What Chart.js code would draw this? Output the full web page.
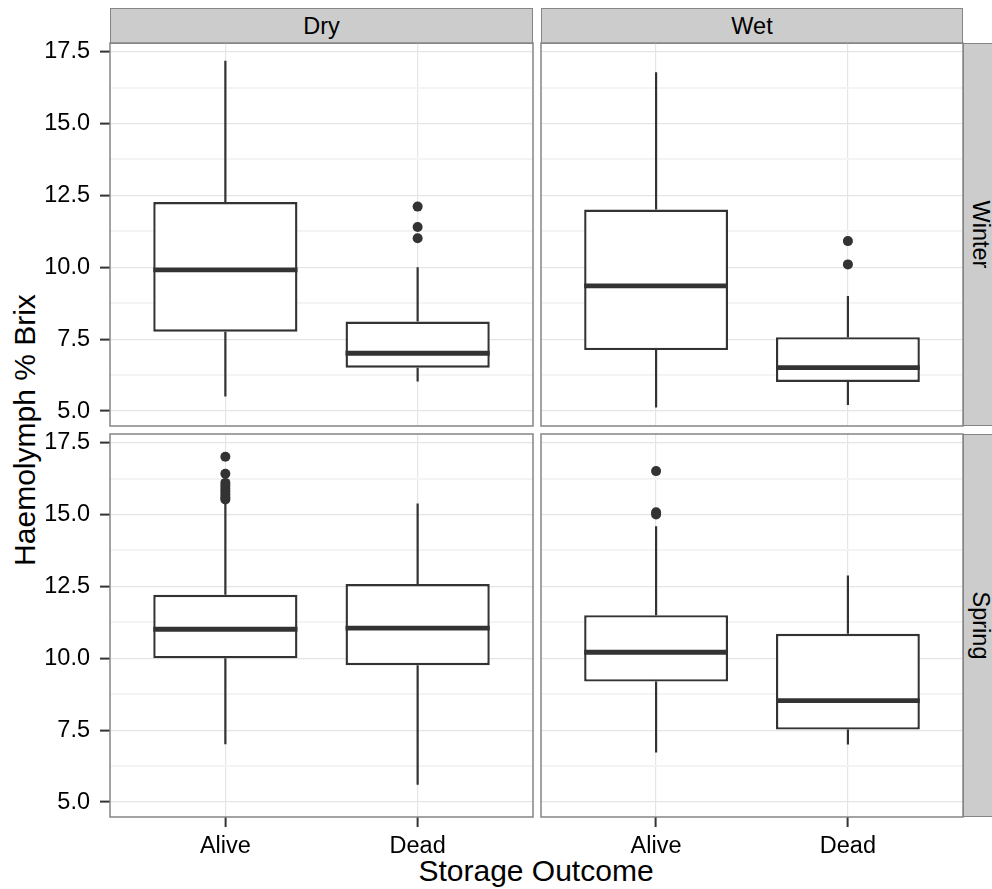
<!DOCTYPE html>
<html>
<head>
<meta charset="utf-8">
<title>Haemolymph % Brix by storage outcome</title>
<script src="https://cdn.jsdelivr.net/npm/chart.js@4.4.1/dist/chart.umd.min.js"></script>
<style>
  html, body { margin: 0; padding: 0; background: #fff; overflow: hidden; }
  #figure { position: relative; width: 992px; height: 889px; overflow: hidden;
            font-family: "Liberation Sans", Arial, Helvetica, sans-serif; color: #000; }
  .panel { position: absolute; }
  .strip { position: absolute; box-sizing: border-box; background: #cccccc; border: 1px solid #858585;
           font-size: 23.5px; display: flex; align-items: center; justify-content: center; }
  .strip span { white-space: nowrap; }
  .strip.side span { transform: rotate(90deg); }
  .title { position: absolute; font-size: 30px; line-height: 30px; height: 30px; text-align: center; white-space: nowrap; }
</style>
</head>
<body>
<div id="figure">
  <div class="strip" style="left:110px;top:8px;width:423px;height:36px;"><span>Dry</span></div>
  <div class="strip" style="left:541px;top:8px;width:422px;height:36px;"><span>Wet</span></div>
  <div class="strip side" style="left:963px;top:43px;width:36px;height:383px;"><span>Winter</span></div>
  <div class="strip side" style="left:963px;top:434px;width:36px;height:383px;"><span>Spring</span></div>
  <div class="title" style="left:-175px;top:415px;width:400px;transform:rotate(-90deg);">Haemolymph % Brix</div>
  <div class="title" style="left:236px;top:856px;width:600px;">Storage Outcome</div>
</div>
<script>
const outcomes = ['Alive', 'Dead'];
const storage = ['Dry', 'Wet'];
const seasons = ['Winter', 'Spring'];

// one row per outcome: lower whisker, Q1, median, Q3, upper whisker
const dryWinterBoxes = [[5.51, 7.76, 9.91, 12.27, 17.18], [6.03, 6.51, 7.01, 8.11, 10.0]];
const dryWinterOutliers = [[], [11.01, 11.4, 12.11]];
const wetWinterBoxes = [[5.12, 7.12, 9.35, 12.01, 16.78], [5.21, 6.01, 6.51, 7.57, 9.0]];
const wetWinterOutliers = [[], [10.1, 10.91]];
const drySpringBoxes = [[7.01, 10.0, 11.01, 12.21, 15.38], [5.6, 9.76, 11.05, 12.58, 15.38]];
const drySpringOutliers = [[15.52, 15.6, 15.7, 15.8, 15.9, 16.0, 16.1, 16.42, 17.01], []];
const wetSpringBoxes = [[6.72, 9.19, 10.21, 11.5, 14.59], [7.0, 7.52, 8.53, 10.85, 12.88]];
const wetSpringOutliers = [[15.0, 15.08, 16.51], []];

const yMajor = [5, 7.5, 10, 12.5, 15, 17.5];
const yMinor = [6.25, 8.75, 11.25, 13.75, 16.25];
const yLimits = [4.48, 17.8];
const xLimits = [0.4, 2.6];

// layout of the facet grid (page pixels)
const colLeft = [110, 541];
const colWidth = [423, 422];
const rowTop = [43, 434];
const rowHeight = 383;
const yAxisWidth = 110;
const xAxisHeight = 45;
const pad = 2;
const halfBox = 0.375;
const ink = '#333333';

Chart.defaults.font.family = '"Liberation Sans", Arial, Helvetica, sans-serif';

const panelBorder = {
    id: 'panelBorder',
    afterDraw(chart) {
        const { ctx, chartArea: a } = chart;
        ctx.save();
        ctx.strokeStyle = '#858585';
        ctx.lineWidth = 1.5;
        ctx.strokeRect(a.left, a.top, a.right - a.left, a.bottom - a.top);
        ctx.restore();
    }
};

const panels = [
    { boxes: dryWinterBoxes, outliers: dryWinterOutliers, row: 0, col: 0 },
    { boxes: wetWinterBoxes, outliers: wetWinterOutliers, row: 0, col: 1 },
    { boxes: drySpringBoxes, outliers: drySpringOutliers, row: 1, col: 0 },
    { boxes: wetSpringBoxes, outliers: wetSpringOutliers, row: 1, col: 1 },
];

const figure = document.getElementById('figure');

function makePanel(p) {
    const showY = p.col === 0;
    const showX = p.row === 1;
    const axisW = showY ? yAxisWidth : 0;
    const axisH = showX ? xAxisHeight : 0;

    const holder = document.createElement('div');
    holder.className = 'panel';
    holder.style.left = (colLeft[p.col] - axisW - pad) + 'px';
    holder.style.top = (rowTop[p.row] - pad) + 'px';
    const canvas = document.createElement('canvas');
    canvas.width = axisW + colWidth[p.col] + 2 * pad;
    canvas.height = rowHeight + axisH + 2 * pad;
    holder.appendChild(canvas);
    figure.appendChild(holder);

    let whiskers = [];
    let medians = [];
    let points = [];
    p.boxes.forEach((b, i) => {
        const x = i + 1;
        whiskers.push({ x, y: b[0] }, { x, y: b[1] }, { x, y: null }, { x, y: b[3] }, { x, y: b[4] }, { x, y: null });
        medians.push({ x: x - halfBox, y: b[2] }, { x: x + halfBox, y: b[2] }, { x, y: null });
        p.outliers[i].forEach(v => points.push({ x, y: v }));
    });
    const isMajor = v => yMajor.includes(v);

    new Chart(canvas, {
        type: 'bar',
        data: {
            datasets: [
                {
                    type: 'line', data: points, showLine: false,
                    pointRadius: 5, pointBackgroundColor: ink, pointBorderWidth: 0
                },
                {
                    type: 'line', data: medians, borderColor: ink, borderWidth: 4.8,
                    borderCapStyle: 'butt', pointRadius: 0
                },
                {
                    type: 'bar', data: p.boxes.map((b, i) => ({ x: i + 1, y: [b[1], b[3]] })),
                    backgroundColor: '#ffffff', borderColor: ink, borderWidth: 2.4, borderSkipped: false,
                    barPercentage: 0.75, categoryPercentage: 1
                },
                {
                    type: 'line', data: whiskers, borderColor: ink, borderWidth: 2.2, pointRadius: 0
                }
            ]
        },
        options: {
            responsive: false,
            animation: false,
            events: [],
            layout: { padding: pad, autoPadding: false },
            plugins: { legend: { display: false }, tooltip: { enabled: false } },
            scales: {
                x: {
                    type: 'linear',
                    min: xLimits[0],
                    max: xLimits[1],
                    offset: false,
                    afterBuildTicks: s => { s.ticks = outcomes.map((o, i) => ({ value: i + 1 })); },
                    afterFit: s => { s.height = axisH; s.paddingLeft = 0; s.paddingRight = 0; },
                    border: { display: false },
                    grid: {
                        offset: false, color: '#e5e5e5', lineWidth: 1.2,
                        drawTicks: showX, tickLength: 10, tickColor: ink, tickWidth: 2
                    },
                    ticks: {
                        display: showX, autoSkip: false, maxRotation: 0, padding: 5,
                        color: '#000', font: { size: 23.5 },
                        callback: v => outcomes[v - 1]
                    }
                },
                y: {
                    type: 'linear',
                    min: yLimits[0],
                    max: yLimits[1],
                    afterBuildTicks: s => {
                        s.ticks = yMajor.concat(yMinor).sort((a, b) => a - b).map(v => ({ value: v }));
                    },
                    afterFit: s => { s.width = axisW; s.paddingTop = 0; s.paddingBottom = 0; },
                    border: { display: false },
                    grid: {
                        color: c => isMajor(c.tick.value) ? '#e5e5e5' : '#f4f4f4',
                        lineWidth: c => isMajor(c.tick.value) ? 1.2 : 2,
                        drawTicks: showY, tickLength: 10, tickWidth: 2,
                        tickColor: c => isMajor(c.tick.value) ? ink : 'rgba(0,0,0,0)'
                    },
                    ticks: {
                        display: showY, autoSkip: false, padding: 10,
                        color: '#000', font: { size: 23.5 },
                        callback: v => isMajor(v) ? v.toFixed(1) : ''
                    }
                }
            }
        },
        plugins: [panelBorder]
    });
}

panels.forEach(makePanel);
</script>
</body>
</html>
